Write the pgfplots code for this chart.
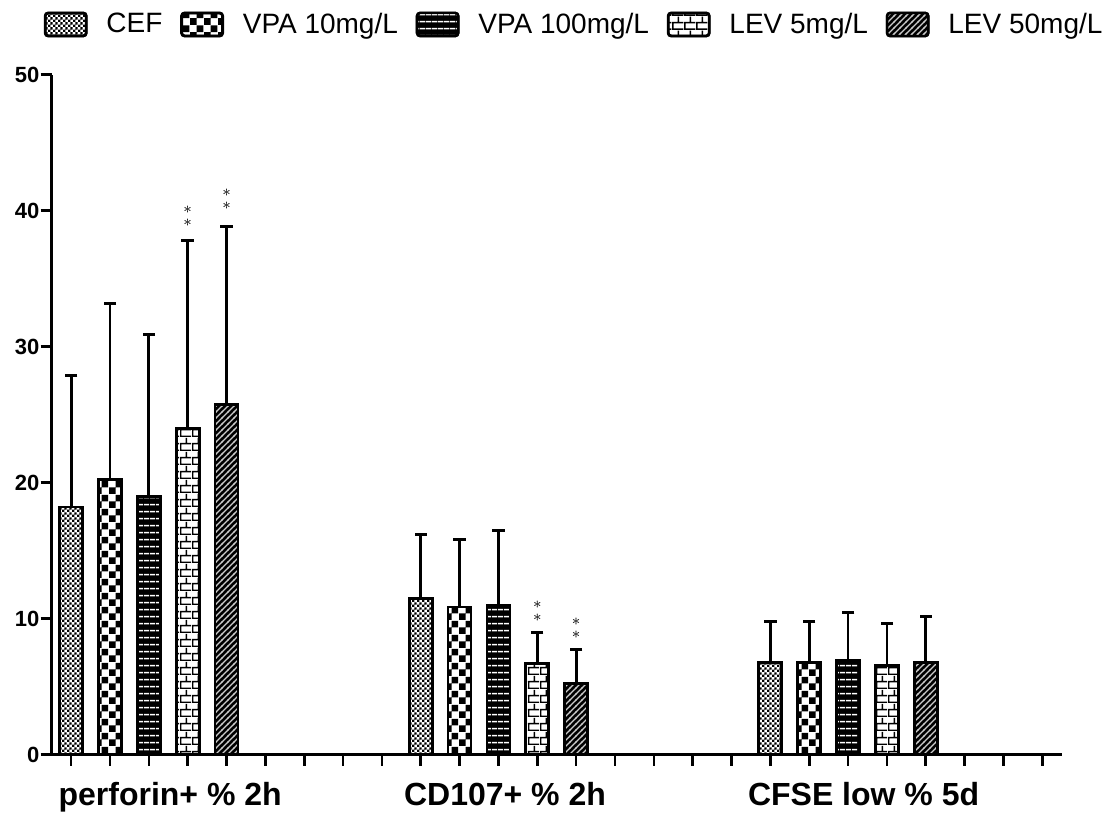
\documentclass[border=0pt]{standalone}
\usepackage{fontspec}
\setmainfont{Liberation Sans}
\usepackage{pgfplots}
\usepackage{pgfplotstable}
\pgfplotsset{compat=1.18}
\usetikzlibrary{patterns}

\pgfdeclarepatternformonly{finecheck}{\pgfqpoint{0pt}{0pt}}{\pgfqpoint{2.4pt}{2.4pt}}{\pgfqpoint{2.4pt}{2.4pt}}{%
 \pgfpathrectangle{\pgfqpoint{0pt}{0pt}}{\pgfqpoint{1.2pt}{1.2pt}}%
 \pgfpathrectangle{\pgfqpoint{1.2pt}{1.2pt}}{\pgfqpoint{1.2pt}{1.2pt}}%
 \pgfusepath{fill}}
\pgfdeclarepatternformonly{bigcheck}{\pgfqpoint{0pt}{0pt}}{\pgfqpoint{6.8pt}{6.8pt}}{\pgfqpoint{6.8pt}{6.8pt}}{%
 \pgfpathrectangle{\pgfqpoint{0pt}{0pt}}{\pgfqpoint{3.4pt}{3.4pt}}%
 \pgfpathrectangle{\pgfqpoint{3.4pt}{3.4pt}}{\pgfqpoint{3.4pt}{3.4pt}}%
 \pgfusepath{fill}}
\pgfdeclarepatternformonly{hlines}{\pgfqpoint{0pt}{0pt}}{\pgfqpoint{3pt}{3.4pt}}{\pgfqpoint{3pt}{3.4pt}}{%
 \pgfpathrectangle{\pgfqpoint{0pt}{1.3pt}}{\pgfqpoint{3pt}{0.8pt}}%
 \pgfusepath{fill}}
\pgfdeclarepatternformonly{brickpat}{\pgfqpoint{0pt}{0pt}}{\pgfqpoint{6pt}{7pt}}{\pgfqpoint{6pt}{7pt}}{%
 \pgfpathrectangle{\pgfqpoint{0pt}{0pt}}{\pgfqpoint{6pt}{0.8pt}}%
 \pgfpathrectangle{\pgfqpoint{0pt}{3.5pt}}{\pgfqpoint{6pt}{0.8pt}}%
 \pgfpathrectangle{\pgfqpoint{0pt}{0pt}}{\pgfqpoint{0.8pt}{3.5pt}}%
 \pgfpathrectangle{\pgfqpoint{3pt}{3.5pt}}{\pgfqpoint{0.8pt}{3.5pt}}%
 \pgfusepath{fill}}
\pgfdeclarepatternformonly{diagpat}{\pgfqpoint{-0.5pt}{-0.5pt}}{\pgfqpoint{3.5pt}{3.5pt}}{\pgfqpoint{3pt}{3pt}}{%
 \pgfsetlinewidth{0.55pt}%
 \pgfpathmoveto{\pgfqpoint{-0.5pt}{-0.5pt}}\pgfpathlineto{\pgfqpoint{3.5pt}{3.5pt}}%
 \pgfusepath{stroke}}

\pgfplotstableread{
x   y      e
0   18.2   9.7
9   11.5   4.65
18  6.8    3.0
}\cef
\pgfplotstableread{
x   y      e
1   20.25  12.95
10  10.85  5.0
19  6.8    3.0
}\vpaten
\pgfplotstableread{
x   y      e
2   18.95  11.95
11  10.95  5.55
20  6.95   3.5
}\vpahun
\pgfplotstableread{
x   y      e
3   24.0   13.8
12  6.7    2.25
21  6.55   3.1
}\levfive
\pgfplotstableread{
x   y      e
4   25.75  13.05
13  5.25   2.5
22  6.8    3.35
}\levfifty

\begin{document}
\begin{tikzpicture}
\path[use as bounding box] (0,0) rectangle (553.5pt,407pt);
\begin{axis}[
  at={(25.85pt,29.7pt)}, anchor=south west,
  scale only axis, width=505pt, height=340pt,
  xmin=-0.5, xmax=25.5, ymin=0, ymax=50,
  clip=false,
  axis lines=left,
  axis line style={-, line width=1.3pt},
  xtick={0,...,25}, xticklabels={},
  ytick={0,10,20,30,40,50},
  tick align=outside,
  major tick length=5.5pt,
  tick style={line width=1.3pt, black},
  /pgf/number format/assume math mode=true,
  yticklabel style={font=\bfseries\fontsize{11}{11}\selectfont, inner sep=0pt, anchor=east, xshift=-0.5pt},
  ybar, bar width=11.5pt,
  every axis plot/.append style={bar shift=0pt},
  barst/.style={draw=black, line width=1.4pt},
  errst/.style={draw=black, fill=none, forget plot, line width=1.4pt,
     error bars/.cd, y dir=plus, y explicit, error mark=none,
     error bar style={line width=1.4pt, draw=black, solid}},
  capst/.style={draw=none, fill=none, forget plot, mark=-, mark size=3.1pt,
     mark options={line width=1.5pt, draw=black, solid}},
  legend columns=-1,
  legend style={at={(rel axis cs:-0.0076,1.0737)}, anchor=west, draw=none, fill=none,
     inner sep=0pt, outer sep=0pt, font=\fontsize{14}{14}\selectfont,
     nodes={inner sep=0pt},
     /tikz/every odd column/.append style={column sep=9.5pt},
     /tikz/every even column/.append style={column sep=9pt}},
  legend image code/.code={\draw[#1, line width=1.2pt, rounded corners=1.5pt] (0pt,-5.75pt) rectangle (20.5pt,5.75pt);},
]
% error bars (drawn first, bars on top)
\addplot[errst] table[x=x, y=y, y error=e] {\cef};
\addplot[errst] table[x=x, y=y, y error=e] {\vpaten};
\addplot[errst] table[x=x, y=y, y error=e] {\vpahun};
\addplot[errst] table[x=x, y=y, y error=e] {\levfive};
\addplot[errst] table[x=x, y=y, y error=e] {\levfifty};
% caps at the tops of the error bars
\addplot[capst] table[x=x, y expr=\thisrow{y}+\thisrow{e}] {\cef};
\addplot[capst] table[x=x, y expr=\thisrow{y}+\thisrow{e}] {\vpaten};
\addplot[capst] table[x=x, y expr=\thisrow{y}+\thisrow{e}] {\vpahun};
\addplot[capst] table[x=x, y expr=\thisrow{y}+\thisrow{e}] {\levfive};
\addplot[capst] table[x=x, y expr=\thisrow{y}+\thisrow{e}] {\levfifty};

\addplot[barst, preaction={fill=white}, pattern=finecheck, pattern color=black]
  table[x=x, y=y] {\cef};
\addlegendentry{CEF}
\addplot[barst, preaction={fill=white}, pattern=bigcheck, pattern color=black]
  table[x=x, y=y] {\vpaten};
\addlegendentry{VPA 10mg/L}
\addplot[barst, preaction={fill=black}, pattern=hlines, pattern color=white]
  table[x=x, y=y] {\vpahun};
\addlegendentry{VPA 100mg/L}
\addplot[barst, preaction={fill=white}, pattern=brickpat, pattern color=black]
  table[x=x, y=y] {\levfive};
\addlegendentry{LEV 5mg/L}
\addplot[barst, preaction={fill=black}, pattern=diagpat, pattern color=white!80!black]
  table[x=x, y=y] {\levfifty};
\addlegendentry{LEV 50mg/L}

\node[font=\fontsize{8}{6.5}\selectfont, inner sep=0pt, align=center] at (axis cs:3,39.55) {$\ast$\\$\ast$};
\node[font=\fontsize{8}{6.5}\selectfont, inner sep=0pt, align=center] at (axis cs:4,40.8) {$\ast$\\$\ast$};
\node[font=\fontsize{8}{6.5}\selectfont, inner sep=0pt, align=center] at (axis cs:12,10.55) {$\ast$\\$\ast$};
\node[font=\fontsize{8}{6.5}\selectfont, inner sep=0pt, align=center] at (axis cs:13,9.3) {$\ast$\\$\ast$};

\node[anchor=base, yshift=-25.2pt, font=\bfseries\fontsize{16}{16}\selectfont, inner sep=0pt] at (axis cs:2.55,0) {perforin+ \% 2h};
\node[anchor=base, yshift=-25.2pt, font=\bfseries\fontsize{16}{16}\selectfont, inner sep=0pt] at (axis cs:11.17,0) {CD107+ \% 2h};
\node[anchor=base, yshift=-25.2pt, font=\bfseries\fontsize{16}{16}\selectfont, inner sep=0pt] at (axis cs:20.4,0) {CFSE low \% 5d};
\end{axis}
\end{tikzpicture}
\end{document}
